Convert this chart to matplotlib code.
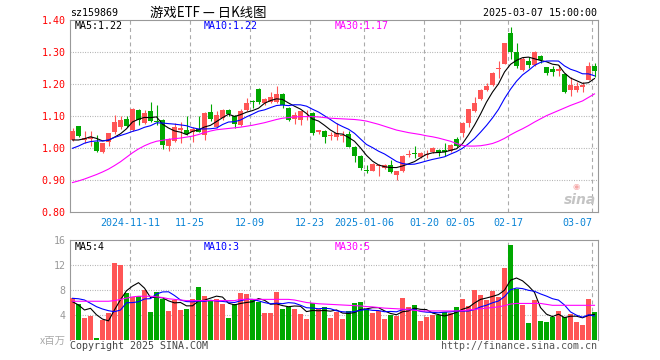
import numpy as np
import pandas as pd
import matplotlib
matplotlib.use("Agg")
import matplotlib.pyplot as plt

plt.rcParams["font.family"] = ["DejaVu Sans Mono", "Noto Sans CJK SC"]
plt.rcParams["axes.unicode_minus"] = False

# ── data ─────────────────────────────────────────────────────────────────────
trade_days = {
    "2024-10": [28, 29, 30, 31],
    "2024-11": [1, 4, 5, 6, 7, 8, 11, 12, 13, 14, 15, 18, 19, 20, 21, 22, 25, 26, 27, 28, 29],
    "2024-12": [2, 3, 4, 5, 6, 9, 10, 11, 12, 13, 16, 17, 18, 19, 20, 23, 24, 25, 26, 27, 30, 31],
    "2025-01": [2, 3, 6, 7, 8, 9, 10, 13, 14, 15, 16, 17, 20, 21, 22, 23, 24, 27],
    "2025-02": [5, 6, 7, 10, 11, 12, 13, 14, 17, 18, 19, 20, 21, 24, 25, 26, 27, 28],
    "2025-03": [3, 4, 5, 6, 7],
}
dates = [f"{m}-{d:02d}" for m, days in trade_days.items() for d in days]

tick_dates = ["2024-11-11", "2024-11-25", "2024-12-09", "2024-12-23", "2025-01-06",
              "2025-01-20", "2025-02-05", "2025-02-17", "2025-03-07"]
tick_text = ["2024-11-11", "11-25", "12-09", "12-23", "2025-01-06",
             "01-20", "02-05", "02-17", "03-07"]

open_ = [1.026, 1.070, 1.027, 1.030, 1.021, 0.9875, 1.019, 1.051, 1.066, 1.092,
         1.057, 1.120, 1.080, 1.117, 1.085, 1.089, 1.007, 1.023, 1.058, 1.057,
         1.052, 1.060, 1.042, 1.114, 1.068, 1.094, 1.120, 1.101, 1.073, 1.120,
         1.149, 1.185, 1.143, 1.146, 1.146, 1.170, 1.125, 1.093, 1.089, 1.097,
         1.111, 1.051, 1.055, 1.039, 1.036, 1.039, 1.045, 1.005, 0.977, 0.933,
         0.930, 0.944, 0.9375, 0.948, 0.917, 0.930, 0.978, 0.985, 0.974, 0.979,
         0.990, 0.995, 0.993, 0.993, 1.028, 1.047, 1.080, 1.118, 1.155, 1.182,
         1.198, 1.248, 1.264, 1.359, 1.301, 1.245, 1.274, 1.260, 1.2885, 1.253,
         1.248, 1.243, 1.232, 1.182, 1.182, 1.193, 1.214, 1.257]
high = [1.062, 1.071, 1.055, 1.055, 1.042, 1.018, 1.049, 1.104, 1.101, 1.101,
        1.127, 1.124, 1.120, 1.145, 1.135, 1.092, 1.031, 1.078, 1.083, 1.101,
        1.067, 1.101, 1.114, 1.139, 1.118, 1.124, 1.122, 1.104, 1.122, 1.158,
        1.152, 1.187, 1.156, 1.175, 1.195, 1.174, 1.128, 1.1125, 1.118, 1.120,
        1.114, 1.058, 1.058, 1.052, 1.078, 1.055, 1.055, 1.008, 0.979, 0.949,
        0.955, 0.951, 0.951, 0.964, 0.930, 0.978, 0.994, 1.007, 0.990, 0.994,
        1.003, 0.997, 1.016, 1.012, 1.034, 1.082, 1.124, 1.161, 1.184, 1.205,
        1.238, 1.274, 1.330, 1.378, 1.328, 1.285, 1.286, 1.305, 1.292, 1.255,
        1.258, 1.261, 1.234, 1.224, 1.208, 1.208, 1.271, 1.267]
low = [1.023, 1.034, 1.018, 1.008, 0.990, 0.985, 1.007, 1.045, 1.060, 1.066,
       1.054, 1.073, 1.076, 1.082, 1.073, 0.998, 0.992, 1.020, 1.016, 1.042,
       1.019, 1.050, 1.026, 1.085, 1.064, 1.090, 1.100, 1.0625, 1.070, 1.118,
       1.125, 1.140, 1.136, 1.143, 1.143, 1.125, 1.086, 1.076, 1.073, 1.090,
       1.042, 1.045, 1.018, 1.026, 1.026, 1.021, 1.003, 0.958, 0.932, 0.924,
       0.928, 0.915, 0.935, 0.922, 0.901, 0.927, 0.973, 0.969, 0.970, 0.970,
       0.986, 0.977, 0.977, 0.990, 1.003, 1.036, 1.068, 1.115, 1.152, 1.180,
       1.196, 1.219, 1.262, 1.278, 1.250, 1.243, 1.250, 1.258, 1.266, 1.229,
       1.227, 1.227, 1.172, 1.164, 1.177, 1.177, 1.212, 1.224]
close = [1.055, 1.0385, 1.033, 1.036, 0.992, 1.017, 1.047, 1.082, 1.089, 1.070,
         1.124, 1.089, 1.111, 1.085, 1.082, 1.010, 1.029, 1.066, 1.065, 1.045,
         1.060, 1.052, 1.111, 1.091, 1.104, 1.120, 1.107, 1.076, 1.118, 1.143,
         1.145, 1.144, 1.153, 1.161, 1.170, 1.135, 1.089, 1.103, 1.115, 1.102,
         1.049, 1.057, 1.036, 1.041, 1.047, 1.041, 1.005, 0.976, 0.9375, 0.930,
         0.951, 0.946, 0.948, 0.925, 0.929, 0.976, 0.979, 0.983, 0.984, 0.983,
         1.000, 0.985, 0.990, 1.010, 1.007, 1.080, 1.122, 1.143, 1.182, 1.195,
         1.236, 1.251, 1.328, 1.302, 1.257, 1.278, 1.260, 1.302, 1.276, 1.236,
         1.240, 1.247, 1.177, 1.198, 1.195, 1.198, 1.257, 1.242]
volume = [6.67, 5.76, 3.57, 3.89, 0.3, 3.2, 4.37, 12.37, 12.0, 7.47,
          6.93, 7.09, 8.0, 4.48, 7.68, 6.51, 4.64, 6.4, 4.8, 4.96,
          6.56, 8.48, 7.09, 6.4, 6.56, 5.81, 3.57, 5.76, 7.52, 7.36,
          6.4, 6.13, 4.37, 4.37, 7.68, 4.96, 5.23, 4.96, 4.16, 3.41,
          5.87, 4.96, 5.23, 3.57, 4.43, 3.36, 4.64, 5.92, 6.08, 4.91,
          4.32, 4.64, 3.36, 4.0, 3.89, 6.72, 5.28, 5.6, 3.04, 3.68,
          4.0, 4.0, 4.48, 4.32, 5.28, 6.56, 5.44, 8.0, 7.2, 6.4,
          7.84, 6.88, 11.52, 15.2, 8.16, 5.6, 2.72, 6.4, 3.04, 2.88,
          3.68, 4.64, 3.68, 4.16, 2.88, 2.4, 6.56, 4.48]

# moving-average values before a full window is available (from the picture)
ma5_head = [1.026, 1.026, 1.030, 1.036]
ma10_head = [1.000, 1.007, 1.016, 1.021, 1.023, 1.023, 1.026, 1.034, 1.040]
ma30 = [0.893, 0.898, 0.904, 0.911, 0.918, 0.926, 0.935, 0.946, 0.958, 0.972,
        0.986, 0.998, 1.008, 1.016, 1.022, 1.025, 1.028, 1.030, 1.032, 1.035,
        1.038, 1.043, 1.049, 1.054, 1.058, 1.060, 1.062, 1.064, 1.066, 1.069,
        1.072, 1.076, 1.080, 1.085, 1.090, 1.094, 1.096, 1.098, 1.099, 1.099,
        1.099, 1.098, 1.096, 1.094, 1.093, 1.092, 1.091, 1.090, 1.088, 1.085,
        1.080, 1.075, 1.069, 1.063, 1.057, 1.053, 1.049, 1.046, 1.043, 1.039,
        1.036, 1.032, 1.027, 1.022, 1.015, 1.009, 1.007, 1.007, 1.008, 1.011,
        1.015, 1.022, 1.031, 1.042, 1.052, 1.061, 1.071, 1.082, 1.092, 1.102,
        1.110, 1.118, 1.126, 1.134, 1.141, 1.148, 1.159, 1.170]
vma5_head = [6.13, 5.6, 4.8, 5.07]
vma10_head = [6.67, 6.6, 6.4, 5.87, 5.33, 4.96, 4.69, 4.53, 4.8]
vma30 = [6.2, 6.2, 6.2, 6.2, 6.2, 6.2, 6.2, 6.3, 6.5, 6.7,
         6.9, 7.0, 7.0, 7.0, 6.9, 6.8, 6.6, 6.5, 6.4, 6.3,
         6.3, 6.3, 6.3, 6.3, 6.3, 6.3, 6.3, 6.3, 6.5, 6.5,
         6.5, 6.5, 6.5, 6.5, 6.5, 6.5, 6.5, 6.4, 6.2, 6.0,
         5.9, 5.8, 5.75, 5.7, 5.65, 5.6, 5.55, 5.5, 5.45, 5.35,
         5.3, 5.2, 5.1, 5.05, 5.0, 4.95, 4.85, 4.75, 4.65, 4.65,
         4.65, 4.65, 4.65, 4.65, 4.65, 4.7, 4.8, 4.9, 5.0, 5.1,
         5.2, 5.3, 5.5, 5.75, 5.85, 5.85, 5.85, 5.85, 5.85, 5.7,
         5.55, 5.55, 5.55, 5.55, 5.55, 5.55, 5.55, 5.55]

code = "sz159869"
title = "游戏ETF — 日K线图"
stamp = "2025-03-07 15:00:00"
price_labels = ["MA5:1.22", "MA10:1.22", "MA30:1.17"]
vol_labels = ["MA5:4", "MA10:3", "MA30:5"]

# ── derived ──────────────────────────────────────────────────────────────────
n = len(close)
x = np.arange(n)
o, h, l, c = map(np.array, (open_, high, low, close))
up = c >= o
RED, GREEN = "#ff5555", "#00a800"
colors = np.where(up, RED, GREEN)

ma5 = pd.Series(c).rolling(5).mean().to_numpy()
ma5[:4] = ma5_head
ma10 = pd.Series(c).rolling(10).mean().to_numpy()
ma10[:9] = ma10_head
v = np.array(volume)
vma5 = pd.Series(v).rolling(5).mean().to_numpy()
vma5[:4] = vma5_head
vma10 = pd.Series(v).rolling(10).mean().to_numpy()
vma10[:9] = vma10_head

tick_pos = [dates.index(d) for d in tick_dates]

# ── figure ───────────────────────────────────────────────────────────────────
W, H = 660, 360
fig = plt.figure(figsize=(W / 100, H / 100), dpi=100)
fig.patch.set_facecolor("white")


def px(xp, yp):
    return xp / W, 1 - yp / H


ax = fig.add_axes([70 / W, (H - 212.3) / H, 528 / W, 192 / H])
axv = fig.add_axes([70 / W, (H - 340) / H, 528 / W, 100 / H])

BW = 5 / 6
GRID = "#aaaaaa"

# price panel
for p in tick_pos:
    ax.axvline(p, color=GRID, lw=0.8, dashes=(3.5, 3), zorder=0)
for yv in [0.9, 1.0, 1.1, 1.2, 1.3]:
    ax.axhline(yv, color=GRID, lw=0.8, dashes=(0.8, 1.4), zorder=0)

ax.vlines(x + BW / 2, l, h, colors=colors, lw=0.8, zorder=2)
body_h = np.maximum(np.abs(c - o), 0.0035)
ax.bar(x, body_h, bottom=np.minimum(o, c), width=BW, align="edge",
       color=colors, linewidth=0, zorder=3)

ax.plot(x + BW / 2, ma5, color="black", lw=0.8, zorder=4)
ax.plot(x + BW / 2, ma10, color="#0000ff", lw=0.8, zorder=4)
ax.plot(x + BW / 2, ma30, color="#ff00ff", lw=0.8, zorder=4)

ax.set_xlim(0, 88)
ax.set_ylim(0.8, 1.4)
yt = np.round(np.arange(0.8, 1.41, 0.1), 2)
ax.set_yticks(yt)
ax.set_yticklabels([f"{t:.2f}" for t in yt])
ax.tick_params(axis="y", length=0, pad=3, labelsize=7.2, labelcolor="#ff0000")
ax.set_xticks(tick_pos)
ax.set_xticklabels(tick_text)
ax.tick_params(axis="x", length=0, pad=4, labelsize=7.2, labelcolor="#0a84d6")
ax.get_xticklabels()[-1].set_ha("right")

# volume panel
for p in tick_pos:
    axv.axvline(p, color=GRID, lw=0.8, dashes=(3.5, 3), zorder=0)
for yv in [4, 8, 12]:
    axv.axhline(yv, color=GRID, lw=0.8, dashes=(0.8, 1.4), zorder=0)

axv.bar(x, v, width=BW, align="edge", color=colors, linewidth=0, zorder=3)
axv.plot(x + BW / 2, vma5, color="black", lw=0.8, zorder=4)
axv.plot(x + BW / 2, vma10, color="#0000ff", lw=0.8, zorder=4)
axv.plot(x + BW / 2, vma30, color="#ff00ff", lw=0.8, zorder=4)

axv.set_xlim(0, 88)
axv.set_ylim(0, 16)
axv.set_yticks([4, 8, 12, 16])
axv.set_yticklabels(["4", "8", "12", "16"])
axv.tick_params(axis="y", length=0, pad=3, labelsize=7.2, labelcolor="#999999")
axv.set_xticks([])

for a in (ax, axv):
    for s in a.spines.values():
        s.set_color("#999999")
        s.set_linewidth(0.8)
axv.spines["bottom"].set_visible(False)

# ── texts ────────────────────────────────────────────────────────────────────
mono = dict(fontsize=7.2, va="center")
fig.text(*px(70, 13), code, ha="left", color="black", **mono)
fig.text(*px(150, 13), title, ha="left", va="center", fontsize=9.6,
         family=["Noto Sans CJK SC", "DejaVu Sans"], color="black")
fig.text(*px(597, 13), stamp, ha="right", color="black", **mono)

for lbl, xp, col in zip(price_labels, [75, 204, 335], ["black", "#0000ff", "#ff00ff"]):
    fig.text(*px(xp, 26), lbl, ha="left", color=col, **mono)
for lbl, xp, col in zip(vol_labels, [75, 204, 335], ["black", "#0000ff", "#ff00ff"]):
    fig.text(*px(xp, 246.5), lbl, ha="left", color=col, **mono)

fig.text(*px(66, 341), "x百万", ha="right", va="center", fontsize=7.5,
         family=["Noto Sans CJK SC"], color="#aaaaaa")
fig.text(*px(70, 346), "Copyright 2025 SINA.COM", ha="left", color="#444444", **mono)
fig.text(*px(597, 346), "http://finance.sina.com.cn", ha="right", color="#555555", **mono)

# sina watermark
fig.text(*px(596, 200), "sina", ha="right", va="center", fontsize=10,
         family=["DejaVu Sans"], style="italic", weight="bold", color="#c4c4c4")
fig.text(*px(576, 186), "◉", ha="center", va="center", fontsize=6,
         family=["DejaVu Sans"], color="#f5a8a8")

fig.savefig("out.png", dpi=100, facecolor="white")
